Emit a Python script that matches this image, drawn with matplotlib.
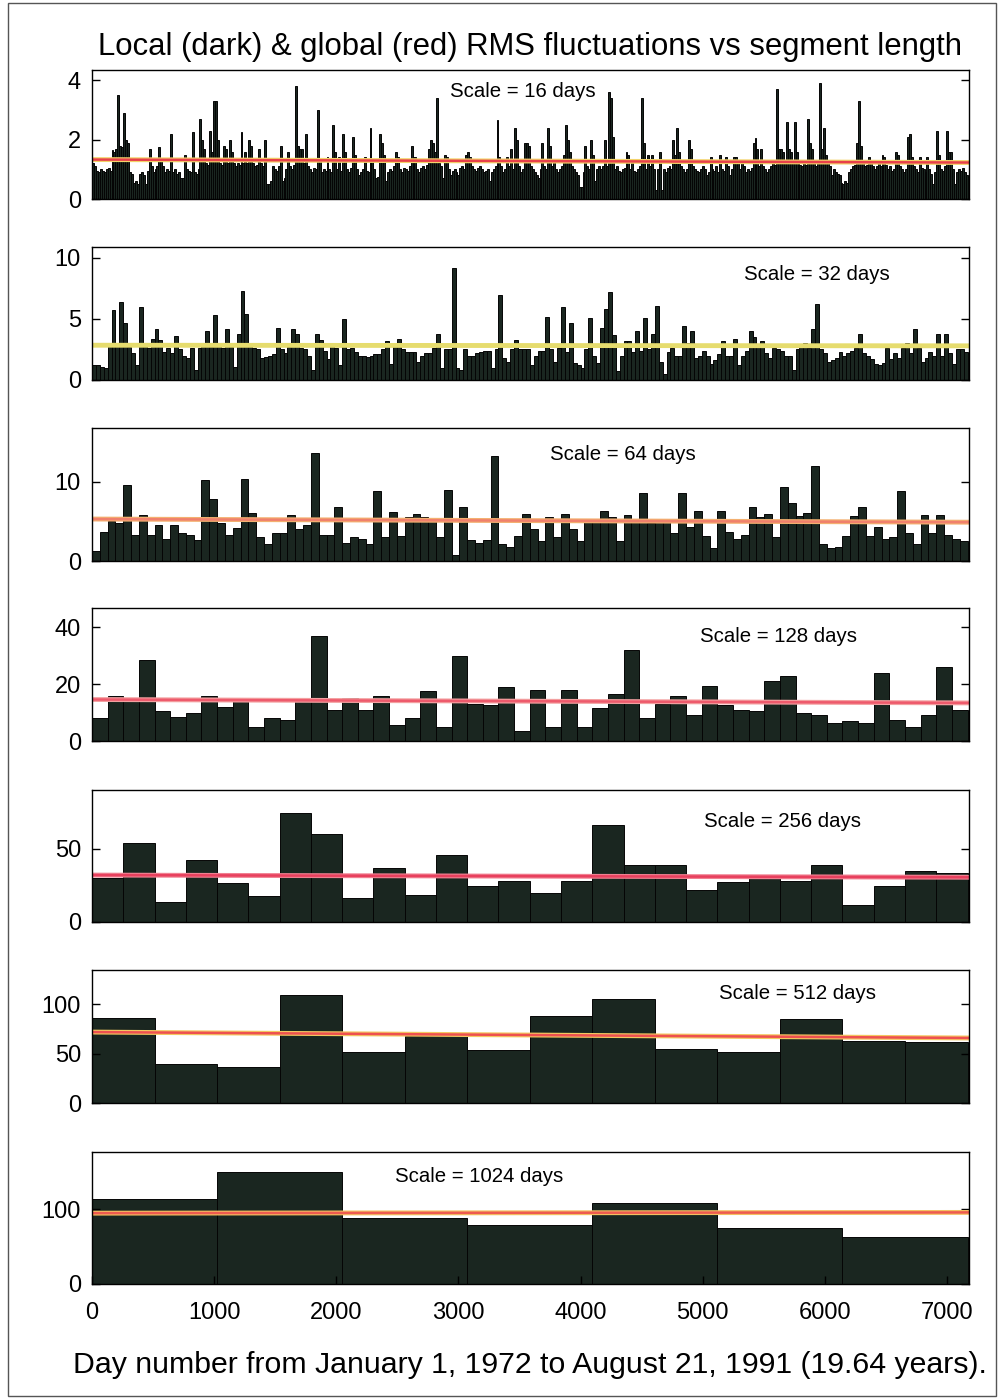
import numpy as np
import matplotlib
matplotlib.use("Agg")
import matplotlib.pyplot as plt
from matplotlib.patches import Rectangle

plt.rcParams['font.family'] = ['Liberation Sans', 'DejaVu Sans']

# segment lengths (days) for each panel
scales = [16, 32, 64, 128, 256, 512, 1024]

# local RMS of each segment
rms_16 = [
    1.2, 1.1, 0.95, 0.9, 1.0, 0.95, 0.9, 1.0, 1.05, 0.95, 1.65, 1.6, 1.7, 3.5, 1.8, 1.75,
    2.9, 2.0, 1.9, 0.9, 0.85, 0.55, 0.6, 0.5, 0.85, 0.9, 0.8, 0.5, 0.95, 1.7, 1.1, 0.9,
    1.0, 1.1, 1.75, 1.3, 1.1, 0.9, 1.0, 0.95, 2.2, 0.9, 1.0, 0.85, 0.9, 0.7, 0.7, 1.5,
    1.0, 0.95, 0.9, 2.25, 0.9, 0.85, 1.0, 2.7, 2.0, 1.7, 1.2, 1.15, 2.3, 1.6, 3.3, 3.3,
    2.0, 1.2, 1.15, 1.8, 1.7, 1.2, 2.0, 1.6, 1.2, 1.1, 1.2, 1.15, 2.25, 1.2, 1.6, 1.2,
    2.0, 1.8, 1.2, 1.1, 1.15, 1.7, 1.2, 1.1, 2.0, 0.5, 0.5, 0.6, 1.1, 1.0, 0.95, 1.1,
    1.8, 0.6, 0.7, 1.0, 1.6, 1.1, 1.0, 1.15, 3.8, 1.8, 1.7, 1.7, 1.2, 2.2, 1.1, 1.0,
    0.9, 1.05, 1.0, 3.0, 1.3, 0.9, 1.0, 0.95, 1.4, 1.0, 0.9, 2.5, 1.6, 1.0, 1.4, 0.95,
    2.2, 1.6, 1.0, 0.9, 1.05, 2.1, 1.5, 1.0, 0.8, 0.9, 1.0, 1.4, 0.95, 0.9, 2.4, 1.3,
    1.0, 0.7, 0.75, 2.2, 1.9, 1.5, 0.6, 0.9, 1.0, 0.95, 1.1, 1.6, 1.4, 1.0, 0.9, 1.05,
    1.0, 0.95, 1.1, 1.8, 1.4, 1.4, 1.0, 0.9, 1.05, 1.1, 1.0, 1.15, 1.7, 2.0, 1.9, 1.6,
    3.4, 1.2, 1.1, 0.7, 1.5, 1.4, 1.0, 0.8, 0.95, 1.0, 0.9, 0.8, 1.05, 1.1, 1.0, 1.5,
    1.6, 1.4, 1.1, 1.0, 0.95, 1.05, 1.1, 1.0, 0.9, 0.95, 1.0, 0.6, 0.9, 1.0, 1.1, 2.65,
    1.4, 1.1, 0.9, 1.0, 1.4, 1.1, 1.7, 1.0, 2.4, 2.0, 1.1, 0.9, 1.0, 1.9, 1.9, 1.8,
    1.1, 1.0, 0.9, 0.8, 0.7, 1.0, 1.9, 1.1, 1.0, 2.4, 1.8, 1.1, 1.3, 1.0, 0.9, 1.0,
    1.1, 1.5, 2.5, 2.0, 1.6, 1.1, 1.0, 0.9, 0.8, 0.4, 0.4, 0.9, 1.8, 1.1, 1.0, 2.0,
    1.5, 0.6, 1.0, 1.1, 1.0, 1.1, 2.0, 1.1, 3.6, 3.4, 2.1, 1.0, 1.1, 0.95, 0.9, 1.0,
    1.05, 1.6, 1.5, 1.0, 1.3, 0.95, 0.9, 1.0, 1.1, 3.4, 1.9, 1.0, 1.5, 1.1, 1.5, 1.0,
    0.3, 1.0, 1.6, 0.3, 1.0, 0.9, 1.05, 1.1, 1.0, 2.0, 1.5, 2.4, 1.6, 1.1, 1.0, 0.9,
    1.0, 2.0, 1.7, 1.1, 1.0, 0.95, 0.9, 1.0, 1.1, 1.0, 0.8, 0.9, 1.4, 1.0, 0.95, 1.1,
    0.9, 1.5, 1.0, 0.95, 1.4, 1.1, 0.8, 1.0, 1.4, 1.4, 1.3, 1.0, 1.3, 1.1, 0.9, 1.0,
    0.95, 1.05, 1.9, 2.05, 1.7, 1.1, 1.7, 1.1, 1.0, 0.9, 1.0, 1.1, 1.2, 1.15, 3.7, 1.7,
    1.7, 1.6, 1.2, 2.6, 1.7, 1.6, 1.2, 2.6, 1.6, 1.2, 1.15, 1.1, 1.2, 1.15, 2.7, 1.9,
    1.7, 1.2, 1.1, 1.2, 3.9, 1.7, 2.4, 1.5, 1.2, 1.1, 0.8, 1.0, 0.9, 0.85, 0.8, 0.55,
    0.5, 0.6, 0.55, 0.9, 1.0, 1.1, 1.15, 1.9, 3.3, 1.8, 1.2, 1.1, 1.15, 1.4, 1.2, 1.1,
    1.0, 1.1, 1.2, 1.1, 1.5, 1.4, 1.15, 1.0, 1.1, 0.95, 1.0, 1.6, 1.5, 1.1, 1.0, 0.9,
    1.0, 2.1, 2.2, 1.4, 1.1, 1.0, 0.9, 1.4, 1.05, 1.0, 0.9, 1.4, 1.0, 0.85, 0.5, 0.9,
    2.3, 1.5, 1.0, 0.95, 1.1, 2.3, 1.6, 1.6, 1.0, 0.5, 0.9, 1.0, 0.95, 1.05, 0.9, 0.8,
]

rms_32 = [
    1.2, 1.2, 1.1, 1.0, 2.8, 5.7, 3.0, 6.4, 4.7, 2.7, 2.2, 1.2, 6.0, 2.8, 2.6, 3.4,
    4.2, 3.3, 2.3, 2.6, 2.2, 3.6, 2.5, 2.0, 1.8, 2.6, 0.8, 2.6, 3.0, 4.0, 2.7, 5.3,
    2.9, 2.6, 4.2, 2.7, 1.1, 3.8, 7.3, 5.4, 2.8, 2.6, 2.5, 1.8, 1.9, 2.0, 2.1, 4.3,
    2.5, 2.2, 2.7, 4.2, 3.8, 2.6, 2.5, 2.0, 0.8, 3.8, 3.3, 2.4, 1.7, 3.0, 2.6, 1.2,
    5.0, 2.5, 2.6, 2.3, 2.0, 2.0, 1.9, 2.0, 2.1, 2.1, 2.5, 3.2, 1.3, 2.8, 3.4, 2.5,
    2.3, 2.3, 2.3, 1.5, 2.0, 2.2, 2.2, 2.6, 3.8, 1.0, 2.5, 2.5, 9.2, 1.0, 0.8, 2.5,
    2.0, 2.0, 2.2, 2.3, 2.4, 2.4, 1.0, 2.5, 7.0, 1.8, 1.5, 2.5, 3.3, 2.5, 2.5, 2.5,
    1.2, 2.0, 2.4, 2.4, 5.2, 2.5, 1.5, 2.6, 6.0, 2.3, 4.7, 1.4, 1.2, 1.0, 2.5, 5.1,
    2.0, 1.4, 4.3, 5.8, 7.2, 3.7, 0.7, 2.0, 3.2, 3.2, 2.3, 4.0, 2.4, 5.1, 2.5, 3.8,
    6.1, 1.5, 0.5, 2.3, 2.6, 2.0, 2.0, 4.4, 3.0, 4.0, 1.8, 2.0, 2.4, 2.0, 1.3, 1.6,
    2.1, 3.2, 2.0, 2.0, 3.4, 1.2, 2.0, 2.4, 4.0, 3.5, 2.7, 3.2, 2.2, 1.8, 2.6, 2.5,
    2.4, 2.0, 2.0, 0.8, 2.5, 2.8, 3.0, 2.6, 4.2, 6.2, 2.5, 2.2, 1.5, 1.6, 1.8, 2.3,
    2.0, 2.2, 2.4, 2.6, 3.8, 2.2, 2.0, 1.7, 1.3, 1.2, 1.4, 2.6, 1.7, 2.2, 1.8, 2.6,
    3.0, 2.2, 4.2, 2.6, 1.5, 1.8, 2.3, 2.0, 3.8, 2.0, 3.8, 2.2, 1.3, 2.5, 2.5, 2.3,
]

rms_64 = [
    1.3, 3.7, 5.1, 4.8, 9.6, 3.3, 5.8, 3.3, 4.5, 2.8, 4.6, 3.6, 3.3, 2.6, 10.2, 7.8,
    4.8, 3.3, 4.2, 10.3, 6.1, 3.0, 2.2, 3.5, 3.6, 5.8, 4.1, 4.5, 13.6, 3.3, 3.3, 6.8,
    2.3, 3.0, 2.8, 2.2, 8.8, 3.0, 6.2, 3.2, 5.6, 6.0, 5.6, 5.0, 3.0, 9.0, 0.8, 6.8,
    2.7, 2.3, 2.6, 13.3, 2.2, 1.8, 3.2, 6.0, 4.0, 2.5, 5.5, 3.0, 6.0, 4.0, 2.5, 5.0,
    5.0, 6.3, 5.6, 2.5, 5.8, 5.0, 8.6, 4.8, 5.2, 5.0, 3.5, 8.6, 4.3, 6.3, 3.2, 1.7,
    6.3, 3.7, 2.8, 3.3, 6.8, 5.6, 6.0, 3.0, 9.3, 7.3, 5.7, 6.1, 12.0, 2.2, 1.6, 1.8,
    3.2, 5.7, 6.8, 3.2, 4.3, 2.8, 3.0, 8.9, 3.5, 2.2, 5.8, 3.5, 5.8, 3.3, 2.8, 2.5,
]

rms_128 = [
    8, 16, 14, 28.5, 10.5, 8.5, 10, 16, 12, 14, 5, 8, 7.5, 14, 37, 11,
    15, 11, 16, 5.5, 8, 17.5, 5, 30, 13, 12.5, 19, 3.5, 18, 5, 18, 5,
    11.5, 16.5, 32, 8, 13, 16, 9, 19.5, 12.5, 11, 10.5, 21, 23, 10, 9, 6.5,
    7, 6.5, 24, 7.5, 5, 9, 26, 11,
]

rms_256 = [29.8, 53.9, 13.8, 42, 26.4, 17.7, 74, 60.3, 16.5, 36.7, 18.3, 45.4, 24.5, 28.2,
           19.5, 28, 65.8, 39, 39, 21.8, 27.5, 29.8, 28, 39, 11.5, 24.5, 35, 33.7]

rms_512 = [86, 39.7, 36.6, 110, 51.7, 67.6, 53.8, 88, 106, 54.5, 52, 85, 63, 62]

rms_1024 = [114, 150, 88.5, 79, 108, 75, 63]

all_rms = [rms_16, rms_32, rms_64, rms_128, rms_256, rms_512, rms_1024]

# global RMS line, value at left and right end of each panel
global_left = [1.33, 2.85, 5.3, 14.6, 32, 72, 95]
global_right = [1.23, 2.8, 4.9, 13.4, 30.5, 66, 96]

ytop = [4.35, 10.9, 16.8, 46.8, 90, 135, 177]
yticks = [[0, 2, 4], [0, 5, 10], [0, 10], [0, 20, 40], [0, 50], [0, 50, 100], [0, 100]]
xticks = [0, 1000, 2000, 3000, 4000, 5000, 6000, 7000]
xmax = 7180

# layout (pixel rows of each panel) and label spots
panel_px = [(70, 199), (247, 380), (428, 561), (608, 741), (790, 922), (970, 1103), (1152, 1284)]
label_pos = [(0.491, 0.837), (0.827, 0.79), (0.605, 0.797), (0.783, 0.782),
             (0.787, 0.765), (0.804, 0.827), (0.441, 0.818)]
line_colors = ['#e8404a', '#e6dc6e', '#f0806c', '#ee5a6c', '#e8405e', '#ee5050', '#ee5a50']
under_colors = ['#f3d36a', '#e6dc6e', '#f3b070', '#f3a0a0', '#f08090', '#f3c860', '#f3c060']

W, H = 1004, 1399
fig = plt.figure(figsize=(W / 100, H / 100), dpi=100)
fig.patches.append(Rectangle((8 / W, 3 / H), 988 / W, 1393 / H, transform=fig.transFigure,
                             fill=False, edgecolor='#555555', linewidth=1.0))

bar_color = '#1a2620'
for k in range(7):
    top, bot = panel_px[k]
    ax = fig.add_axes([92 / W, 1 - bot / H, 877 / W, (bot - top) / H])
    vals = all_rms[k]
    s = scales[k]
    x = np.arange(len(vals)) * s
    ax.bar(x, vals, width=s, align='edge', color=bar_color, edgecolor='#050505', linewidth=0.7)
    ax.plot([0, xmax], [global_left[k], global_right[k]], color=under_colors[k], lw=3.5, solid_capstyle='butt')
    ax.plot([0, xmax], [global_left[k], global_right[k]], color=line_colors[k], lw=1.8, solid_capstyle='butt')
    ax.set_xlim(0, xmax)
    ax.set_ylim(0, ytop[k])
    ax.set_yticks(yticks[k])
    ax.tick_params(axis='y', direction='in', right=True, length=6, width=1, labelsize=17, pad=8)
    if k < 6:
        ax.set_xticks([])
    else:
        ax.set_xticks(xticks)
        ax.tick_params(axis='x', direction='in', length=6, width=1, labelsize=17, pad=13)
    for sp in ax.spines.values():
        sp.set_linewidth(1.0)
    ax.text(label_pos[k][0], label_pos[k][1], f"Scale = {s} days", transform=ax.transAxes,
            ha='center', va='center', fontsize=14.7)

fig.text(530 / W, 1 - 47 / H, "Local (dark) & global (red) RMS fluctuations vs segment length",
         ha='center', va='center', fontsize=22.4)
fig.text(530 / W, 1 - 1365 / H, "Day number from January 1, 1972 to August 21, 1991 (19.64 years).",
         ha='center', va='center', fontsize=21.8)

fig.savefig("out.png", dpi=100)
